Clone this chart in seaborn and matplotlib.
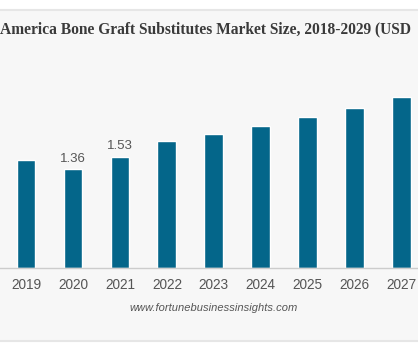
import matplotlib
matplotlib.use("Agg")
import matplotlib.pyplot as plt
import seaborn as sns
import pandas as pd
from matplotlib.patches import Rectangle
from matplotlib.lines import Line2D

years = ["2019", "2020", "2021", "2022", "2023", "2024", "2025", "2026", "2027"]
values = [1.49, 1.36, 1.53, 1.74, 1.84, 1.95, 2.07, 2.20, 2.35]
labels = ["", "1.36", "1.53", "", "", "", "", "", ""]
title = "America Bone Graft Substitutes Market Size, 2018-2029 (USD"
source = "www.fortunebusinessinsights.com"

df = pd.DataFrame({"year": years, "value": values})

sns.set_theme(style="white")
plt.rcParams["font.family"] = ["Liberation Sans", "DejaVu Sans"]

W, H = 418, 349
fig = plt.figure(figsize=(W / 100, H / 100), dpi=100, facecolor="white")

# panel background
fig.patches.append(Rectangle((0, (H - 340) / H), 1, (340 - 10) / H, transform=fig.transFigure,
                             facecolor="#f7f7f7", edgecolor="none", zorder=-10))
fig.lines.append(Line2D([0, 1], [(H - 9.5) / H] * 2, transform=fig.transFigure, color="#e6e6e6",
                        lw=1.5, zorder=-9))
fig.lines.append(Line2D([0, 1], [(H - 340.5) / H] * 2, transform=fig.transFigure, color="#e6e6e6",
                        lw=1.5, zorder=-9))

base_px = 268.3
top_px = 60
ax = fig.add_axes([0, (H - base_px) / H, 1, (base_px - top_px) / H])
ax.set_facecolor("none")
ax.set_zorder(1)

sns.barplot(data=df, x="year", y="value", order=years, color="#04668a", width=0.4,
            saturation=1, ax=ax)
ax.set_xlim(-0.554, 8.348)
ax.set_ylim(0, (base_px - top_px) / 73.0)

ax.bar_label(ax.containers[0], labels=labels, padding=3, color="#555555", fontsize=9.5)

for s in ["top", "left", "right"]:
    ax.spines[s].set_visible(False)
ax.spines["bottom"].set_color("#cccccc")
ax.spines["bottom"].set_linewidth(1)
ax.set_yticks([])
ax.set_xlabel("")
ax.set_ylabel("")
ax.tick_params(axis="x", length=0, pad=7, labelsize=9.8, labelcolor="#555555")

fig.text(0.5 / W, 1 - 29 / H, title, family=["Liberation Serif", "DejaVu Serif"], weight="bold",
         fontsize=11.2, color="#3a3a3a", ha="left", va="center")
fig.text(214 / W, 1 - 308 / H, source, style="italic", fontsize=8, color="#555555",
         ha="center", va="center")

fig.savefig("out.png", dpi=100, facecolor="white")
